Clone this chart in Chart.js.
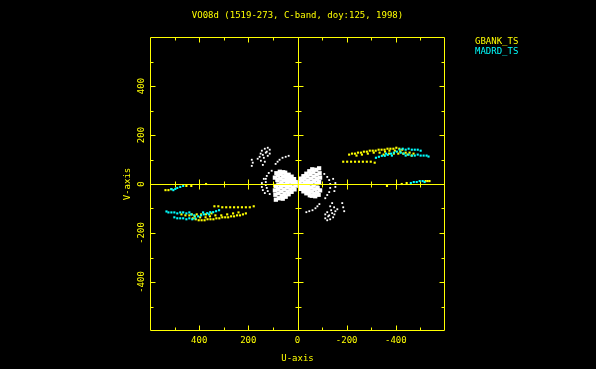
<!DOCTYPE html>
<html>
<head>
<meta charset="utf-8">
<script src="https://cdn.jsdelivr.net/npm/chart.js@4.4.0/dist/chart.umd.min.js"></script>
<style>
  html, body { margin: 0; padding: 0; background: #000; }
</style>
</head>
<body>
<canvas id="uvChart" width="596" height="369"></canvas>
<script>
// chart text
const chartTitle = 'VO08d (1519-273, C-band, doy:125, 1998)';
const xAxisTitle = 'U-axis';
const yAxisTitle = 'V-axis';
const legendOrder = ['GBANK_TS', 'MADRD_TS'];

// tick values (axis units)
const xTickLabels = [400, 200, 0, -200, -400];
const yTickLabels = [-400, -200, 0, 200, 400];
const majorTicks = [-400, -200, 0, 200, 400];
const minorTicks = [-500, -300, -100, 100, 300, 500];

// GBANK_TS (u, v)
const gbankPoints = [
    [-210,120],[-222,124],[-234,124],[-246,128],[-258,128],[-270,132],[-282,132],[-294,136],[-306,136],[-318,136],
    [-330,140],[-342,140],[-354,140],[-366,144],[-378,144],[-390,144],[-402,148],[-414,144],[-426,140],
    [-240,116],[-262,120],[-286,124],[-310,128],[-334,128],[-356,132],[-374,136],[-396,136],[-418,132],
    [-440,128],[-456,128],[-472,124],[-350,120],[-372,124],[-392,124],[-410,124],[-430,124],[-448,120],[-464,116],
    [-186,91],[-202,91],[-218,91],[-234,91],[-250,91],[-266,91],[-282,91],[-298,91],[-314,87],
    [-364,-8],[-424,0],[-444,4],[-521,12],[-529,12],[-537,12],
    [210,-120],[222,-124],[234,-128],[246,-128],[258,-132],[270,-132],[282,-136],[294,-136],[306,-136],[318,-140],
    [330,-140],[342,-144],[354,-144],[366,-144],[378,-148],[390,-148],[402,-148],[414,-144],[426,-140],
    [240,-116],[262,-120],[286,-124],[310,-128],[334,-128],[356,-132],[374,-136],[396,-136],[418,-132],
    [440,-128],[456,-128],[472,-124],[350,-120],[372,-124],[392,-124],[410,-124],[430,-124],
    [178,-91],[194,-95],[210,-95],[226,-95],[242,-95],[258,-95],[274,-95],[290,-95],[306,-95],[322,-91],[338,-91],
    [372,0],[432,-8],[452,-8],[513,-21],[525,-25],[537,-25]
];

// MADRD_TS (u, v)
const madrdPoints = [
    [-319,107],[-331,111],[-343,115],[-355,115],[-367,119],[-380,124],[-392,128],[-404,132],
    [-416,140],[-428,144],[-440,140],[-452,144],[-465,140],[-477,140],[-489,140],[-501,136],
    [-440,116],[-452,120],[-465,116],[-477,116],[-489,120],[-501,116],[-513,116],[-525,116],[-533,112],
    [-420,128],[-432,124],[-360,124],[-384,116],
    [-461,4],[-473,8],[-485,8],[-497,12],[-509,12],[-517,8],
    [319,-107],[331,-111],[343,-115],[355,-115],[367,-119],[380,-124],[392,-128],[404,-132],
    [416,-140],[428,-144],[440,-140],[452,-144],[465,-140],[477,-140],[489,-140],[501,-136],
    [440,-116],[452,-120],[465,-116],[477,-116],[489,-120],[501,-116],[513,-116],[525,-116],[533,-112],
    [420,-128],[432,-124],[360,-124],[384,-116],
    [465,-8],[477,-12],[489,-16],[497,-20],[505,-25],[513,-21]
];

// other baselines, thin arcs (u, v)
const otherArcs = [
    [145,136],[133,144],[121,148],[113,140],[129,128],[141,119],[154,111],[137,107],[121,115],[149,95],
    [133,91],[141,78],[162,103],[113,124],[125,132],[150,124],
    [186,99],[182,87],[186,74],
    [89,82],[81,91],[73,99],[61,107],[48,111],[36,115],
    [-145,-136],[-133,-144],[-121,-148],[-113,-140],[-129,-128],[-141,-119],[-154,-111],[-137,-107],[-121,-115],[-149,-95],
    [-133,-91],[-141,-78],[-162,-103],[-113,-124],[-125,-132],[-150,-124],
    [-182,-78],[-186,-95],[-190,-111],
    [-89,-82],[-81,-91],[-73,-99],[-61,-107],[-48,-111],[-36,-115],
    [105,54],[117,45],[125,33],[129,21],[129,8],[129,-4],[125,-16],[121,-29],[113,-41],
    [137,21],[145,4],[145,-12],[141,-25],[133,-37],
    [-109,41],[-121,29],[-129,16],[-133,0],[-133,-16],[-129,-33],[-121,-45],[-113,-58],
    [-145,21],[-154,4],[-154,-12],[-150,-29]
];

// other baselines, dense centre (u, v)
const otherCore = [
    [8,-6],[8,8],[18,-14],[18,4],[20,16],[28,-22],[30,-6],[30,10],[32,24],[40,-30],[42,-12],[42,4],[44,20],
    [46,34],[52,-40],[54,-22],[55,-4],[56,14],[58,30],[64,-48],[66,-30],[68,-12],[66,6],[70,22],[68,40],
    [76,-58],[78,-38],[80,-20],[78,-2],[82,16],[80,34],[88,-64],[90,-44],[92,-26],[88,-8],[92,26],[86,44],[72,50],
    [12,-22],[14,20],[24,-32],[24,30],[36,-42],[36,38],[50,46],[48,-52],[60,-60],[58,48],
    [-8,6],[-8,-8],[-18,14],[-18,-4],[-20,-16],[-28,22],[-30,6],[-30,-10],[-32,-24],[-40,30],[-42,12],[-42,-4],
    [-44,-20],[-46,-34],[-52,40],[-54,22],[-55,4],[-56,-14],[-58,-30],[-64,48],[-66,30],[-68,12],[-66,-6],
    [-70,-22],[-68,-40],[-76,58],[-78,38],[-80,20],[-78,2],[-82,-16],[-80,-34],[-88,64],[-90,44],[-92,26],
    [-88,8],[-92,-26],[-86,-44],[-72,-50],
    [-12,22],[-14,-20],[-24,32],[-24,-30],[-36,42],[-36,-38],[-50,-46],[-48,52],[-60,60],[-58,-48]
];

const toXY = (arr) => arr.map(p => ({ x: p[0], y: p[1] }));

const YELLOW = '#ffff00';
const CYAN = '#00ffff';
const FONT = 'DejaVu Sans Mono';

// frame, cross axes, title, y labels and legend in PGPLOT style
const pgplotAxes = {
    id: 'pgplotAxes',
    afterDatasetsDraw(chart) {
        const ctx = chart.ctx;
        const xs = chart.scales.x, ys = chart.scales.y;
        const a = chart.chartArea;
        const L = Math.round(a.left) + 0.5, R = Math.round(a.right) - 0.5;
        const T = Math.round(a.top) + 0.5, B = Math.round(a.bottom) - 0.5;
        const x0 = Math.round(xs.getPixelForValue(0)) + 0.5;
        const y0 = Math.round(ys.getPixelForValue(0)) + 0.5;

        ctx.save();
        ctx.strokeStyle = YELLOW;
        ctx.lineWidth = 1;
        ctx.beginPath();
        ctx.rect(L, T, R - L, B - T);
        ctx.moveTo(L, y0); ctx.lineTo(R, y0);
        ctx.moveTo(x0, T); ctx.lineTo(x0, B);

        const tickSet = [[majorTicks, 5], [minorTicks, 3]];
        tickSet.forEach(([vals, len]) => {
            vals.forEach(v => {
                const px = Math.round(xs.getPixelForValue(v)) + 0.5;
                const py = Math.round(ys.getPixelForValue(v)) + 0.5;
                // frame ticks, pointing inward
                ctx.moveTo(px, B); ctx.lineTo(px, B - len);
                ctx.moveTo(px, T); ctx.lineTo(px, T + len);
                ctx.moveTo(L, py); ctx.lineTo(L + len, py);
                ctx.moveTo(R, py); ctx.lineTo(R - len, py);
                // ticks across the zero lines
                if (v !== 0) {
                    ctx.moveTo(px, y0 - len); ctx.lineTo(px, y0 + len);
                    ctx.moveTo(x0 - len, py); ctx.lineTo(x0 + len, py);
                }
            });
        });
        ctx.stroke();

        ctx.fillStyle = YELLOW;
        ctx.font = '9px "' + FONT + '"';
        ctx.textAlign = 'center';
        ctx.textBaseline = 'middle';
        ctx.fillText(chartTitle, (a.left + a.right) / 2, 16);

        yTickLabels.forEach(v => {
            ctx.save();
            ctx.translate(142, ys.getPixelForValue(v));
            ctx.rotate(-Math.PI / 2);
            ctx.fillText(String(v), 0, 0);
            ctx.restore();
        });

        // legend: coloured names only
        ctx.textAlign = 'left';
        legendOrder.forEach((name, i) => {
            const d = chart.data.datasets.find(ds => ds.label === name);
            ctx.fillStyle = d.backgroundColor;
            ctx.fillText(name, 475, 42 + i * 10);
        });
        ctx.restore();
    }
};

new Chart(document.getElementById('uvChart'), {
    type: 'scatter',
    data: {
        datasets: [
            {
                label: 'MADRD_TS',
                data: toXY(madrdPoints),
                backgroundColor: CYAN,
                borderWidth: 0,
                pointStyle: 'rect',
                pointRadius: 1.5
            },
            {
                label: 'GBANK_TS',
                data: toXY(gbankPoints),
                backgroundColor: YELLOW,
                borderWidth: 0,
                pointStyle: 'rect',
                pointRadius: 1.5
            },
            {
                label: '',
                data: toXY(otherArcs),
                backgroundColor: '#ffffff',
                borderWidth: 0,
                pointStyle: 'rect',
                pointRadius: 1.3
            },
            {
                label: '',
                data: toXY(otherCore),
                backgroundColor: '#ffffff',
                borderWidth: 0,
                pointStyle: 'rect',
                pointRadius: 3
            }
        ]
    },
    options: {
        responsive: false,
        animation: false,
        events: [],
        layout: { padding: { left: 0, right: 151, top: 37, bottom: 0 } },
        plugins: {
            legend: { display: false },
            title: { display: false },
            tooltip: { enabled: false }
        },
        scales: {
            x: {
                type: 'linear',
                reverse: true,
                min: -600,
                max: 600,
                afterFit: (s) => { s.height = 38; },
                grid: { display: false, drawTicks: false },
                border: { display: false },
                ticks: {
                    stepSize: 200,
                    padding: 4,
                    color: YELLOW,
                    font: { family: FONT, size: 9 },
                    callback: (v) => xTickLabels.includes(v) ? String(v) : ''
                },
                title: {
                    display: true,
                    text: xAxisTitle,
                    color: YELLOW,
                    font: { family: FONT, size: 9 },
                    padding: { top: 0, bottom: 5 }
                }
            },
            y: {
                type: 'linear',
                min: -600,
                max: 600,
                afterFit: (s) => { s.width = 150; },
                grid: { display: false, drawTicks: false },
                border: { display: false },
                ticks: { display: false, stepSize: 200 },
                title: {
                    display: true,
                    text: yAxisTitle,
                    color: YELLOW,
                    font: { family: FONT, size: 9 },
                    padding: { top: 122, bottom: 0 }
                }
            }
        }
    },
    plugins: [pgplotAxes]
});
</script>
</body>
</html>
